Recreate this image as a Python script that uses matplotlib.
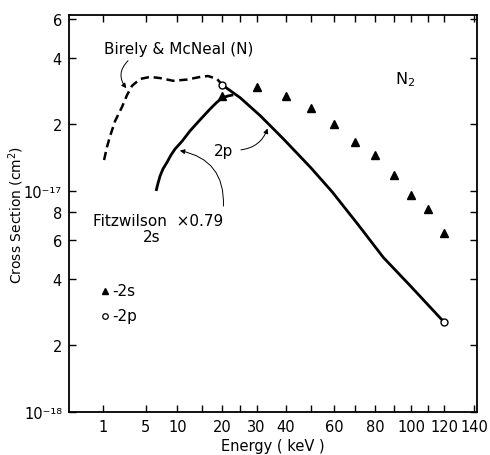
import numpy as np
import matplotlib
matplotlib.use("Agg")
import matplotlib.pyplot as plt
from matplotlib.ticker import FixedLocator, FixedFormatter, NullLocator

# Seccion eficaz de excitacion N2 -> N(2s), N(2p)
e_2s = [20, 30, 40, 50, 60, 70, 80, 90, 100, 110, 120]
s_2s = [2.69e-17, 2.96e-17, 2.69e-17, 2.38e-17, 2.01e-17, 1.67e-17,
        1.46e-17, 1.18e-17, 9.6e-18, 8.3e-18, 6.45e-18]

e_2p = [20, 120]
s_2p = [3.02e-17, 2.55e-18]

# curva teorica 2p
e_teo = [20, 25.0, 31.2, 39.2, 49.7, 59.1, 71.4, 84.3, 99.4, 120]
s_teo = [3.02e-17, 2.64e-17, 2.19e-17, 1.72e-17, 1.28e-17, 9.9e-18,
         7.02e-18, 5.0e-18, 3.72e-18, 2.55e-18]

# Birely & McNeal (N)
e_bir = [1.05, 1.23, 1.44, 1.81, 2.4, 2.88, 3.39, 4.31, 5.61, 7.08, 9.25,
         11.9, 14.7, 16.5, 18.7, 20]
s_bir = [1.38e-17, 1.58e-17, 1.77e-17, 2.07e-17, 2.40e-17, 2.72e-17, 2.99e-17,
         3.21e-17, 3.28e-17, 3.24e-17, 3.15e-17, 3.19e-17, 3.28e-17, 3.31e-17,
         3.21e-17, 3.02e-17]

# Fitzwilson x0.79 (2s)
e_fitz = [6.47, 6.77, 7.08, 7.55, 8.21, 8.89, 9.61, 10.92, 12.5, 14.67,
          17.0, 18.47, 20.0, 21.6, 23.0]
s_fitz = [1.0e-17, 1.087e-17, 1.17e-17, 1.26e-17, 1.35e-17, 1.456e-17, 1.55e-17,
          1.68e-17, 1.87e-17, 2.10e-17, 2.35e-17, 2.50e-17, 2.64e-17, 2.69e-17,
          2.72e-17]

x_ticks = [1, 5, 10, 15, 20, 25, 30, 40, 50, 60, 70, 80, 90, 100, 110, 120, 140]
x_labels = ['1', '5', '10', '', '20', '', '30', '40', '', '60', '', '80', '',
            '100', '', '120', '140']
y_ticks = [1e-18, 2e-18, 4e-18, 6e-18, 8e-18, 1e-17, 2e-17, 4e-17, 6e-17]
y_labels = ['10\u207b\u00b9\u2078', '2', '4', '6', '8', '10\u207b\u00b9\u2077', '2', '4', '6']

plt.rcParams['font.family'] = 'DejaVu Sans'
fig = plt.figure(figsize=(4.9, 4.56), dpi=100)
ax = fig.add_axes([0.1408, 0.0943, 0.8327, 0.8706])

ax.set_xscale('function', functions=(lambda x: np.sqrt(np.clip(x, 0, None)),
                                     lambda x: np.square(x)))
ax.set_yscale('log')
ax.set_xlim(0, 142)
ax.set_ylim(1e-18, 6.25e-17)

ax.plot(e_bir, s_bir, color='black', lw=1.8, ls=(0, (3.3, 1.9)))
ax.plot(e_fitz, s_fitz, color='black', lw=2.0, solid_capstyle='butt')
ax.plot(e_teo, s_teo, color='black', lw=2.0)
ax.plot(e_2s, s_2s, ls='none', marker='^', ms=6, color='black')
ax.plot(e_2p, s_2p, ls='none', marker='o', ms=5, mfc='white', mec='black', mew=1.0)

ax.xaxis.set_major_locator(FixedLocator(x_ticks))
ax.xaxis.set_major_formatter(FixedFormatter(x_labels))
ax.xaxis.set_minor_locator(NullLocator())
ax.yaxis.set_major_locator(FixedLocator(y_ticks))
ax.yaxis.set_major_formatter(FixedFormatter(y_labels))
ax.yaxis.set_minor_locator(NullLocator())
ax.tick_params(which='both', direction='in', top=True, right=True,
               length=5, width=1, labelsize=10.5, pad=5)
for sp in ax.spines.values():
    sp.set_linewidth(1.3)

ax.set_xlabel('Energy ( keV )', fontsize=10.5, labelpad=3)
ax.set_ylabel('Cross Section (cm$^2$)', fontsize=10)
ax.yaxis.set_label_coords(-0.105, 0.5)

# textos y flechas
ax.text(1.05, 4.39e-17, 'Birely & McNeal (N)', fontsize=11, ha='left', va='center')
ax.text(90.9, 3.23e-17, 'N$_2$', fontsize=11.5, ha='left', va='center')
ax.text(17.97, 1.53e-17, '2p', fontsize=11, ha='left', va='center')
ax.text(0.49, 7.33e-18, 'Fitzwilson  \u00d70.79', fontsize=11, ha='left', va='center')
ax.text(4.68, 6.2e-18, '2s', fontsize=11, ha='left', va='center')

flecha = dict(arrowstyle='-|>', color='black', lw=0.7, mutation_scale=7)
ax.annotate('', xy=(2.98, 2.85e-17), xytext=(3.18, 3.96e-17),
            arrowprops=dict(flecha, connectionstyle='arc3,rad=0.5'))
ax.annotate('', xy=(33.9, 1.97e-17), xytext=(24.4, 1.53e-17),
            arrowprops=dict(flecha, connectionstyle='arc3,rad=0.35'))
ax.annotate('', xy=(9.97, 1.53e-17), xytext=(20.3, 8.3e-18),
            arrowprops=dict(flecha, connectionstyle='arc3,rad=0.45'))

# leyenda de simbolos
ax.plot([1.11], [3.53e-18], ls='none', marker='^', ms=5, color='black')
ax.text(1.58, 3.53e-18, '-2s', fontsize=11, ha='left', va='center')
ax.plot([1.11], [2.72e-18], ls='none', marker='o', ms=4, mfc='white', mec='black', mew=0.9)
ax.text(1.58, 2.72e-18, '-2p', fontsize=11, ha='left', va='center')

fig.savefig('out.png', dpi=100)
